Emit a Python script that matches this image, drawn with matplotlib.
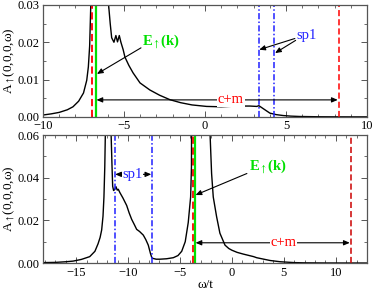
import matplotlib
matplotlib.use("Agg")
import matplotlib.pyplot as plt
from matplotlib.ticker import MultipleLocator

plt.rcParams['font.family'] = ['Liberation Serif', 'DejaVu Serif']
plt.rcParams['mathtext.fontset'] = 'stix'

# ---- data: top panel ----
x_top = [-10, -9.5, -9, -8.5, -8.15, -7.8, -7.5, -7.3, -7.2, -7.12, -7.05, -6.95, -6.6, -6.2,
         -5.97, -5.85, -5.76, -5.62, -5.5, -5.4, -5.29, -5.19, -5.05, -4.94, -4.7, -4.44,
         -4.01, -3.4, -2.8, -2.16, -1.5, -0.8, 0.1, 1.0, 1.96, 2.78, 3.2, 3.33, 3.6, 4.01,
         4.4, 4.84, 5.3, 5.86, 7, 8, 9, 10]
y_top = [0.0005, 0.0008, 0.0012, 0.0019, 0.0027, 0.0042, 0.0064, 0.0098, 0.0134, 0.019,
         0.03, 0.30, 0.08, 0.045, 0.031, 0.025, 0.0212, 0.0200, 0.0218, 0.0201, 0.0218,
         0.0200, 0.018, 0.016, 0.0138, 0.0118, 0.0091, 0.0072, 0.0058, 0.0046, 0.0038,
         0.0032, 0.0028, 0.0027, 0.0029, 0.0029, 0.0028, 0.003, 0.0022, 0.001, 0.0006,
         0.00035, 0.0002, 0.0001, 0.00003, 0.00001, 0, 0]
top_red = [-6.99, 8.25]
top_green = -6.75
top_blue = [3.33, 4.28]

# ---- data: bottom panel ----
x_bot = [-18.2, -17, -16, -15.3, -14.5, -13.7, -13.2, -12.9, -12.7, -12.55, -12.42, -12.33,
         -12.25, -12.18, -11.9, -11.65, -11.55, -11.49, -11.4, -11.3, -11.17, -11.05, -10.95,
         -10.79, -10.5, -10.14, -9.9, -9.66, -9.4, -9.18, -8.9, -8.54, -8.3, -8.06, -7.85,
         -7.72, -7.64, -7.3, -6.93, -6.3, -5.65, -5.2, -4.84, -4.5, -4.21, -3.98, -3.9,
         -3.75, -3.0, -2.12, -1.96, -1.8, -1.48, -1.16, -0.67, -0.3, 0.0, 0.5, 1.09, 2.09,
         2.38, 3.66, 4.65, 6.0, 6.9, 9, 13]
y_bot = [0.0002, 0.0003, 0.0006, 0.0009, 0.0017, 0.003, 0.0055, 0.009, 0.012, 0.0155, 0.022,
         0.031, 0.045, 0.065, 0.3, 0.062, 0.045, 0.036, 0.034, 0.0345, 0.0358, 0.0342, 0.0346,
         0.033, 0.0305, 0.027, 0.0235, 0.0205, 0.018, 0.0158, 0.0148, 0.0131, 0.011, 0.0084,
         0.0045, 0.0025, 0.0022, 0.0018, 0.0018, 0.002, 0.0025, 0.0035, 0.0055, 0.010, 0.019,
         0.031, 0.045, 0.3, 0.2, 0.062, 0.042, 0.031, 0.0218, 0.014, 0.0084, 0.0068, 0.006,
         0.005, 0.0042, 0.003, 0.0025, 0.0012, 0.0006, 0.0002, 0.0001, 0.00003, 0]
bot_red = [-3.73, 11.45]
bot_green = -3.56
bot_blue = [-11.3, -7.72]

RED = '#ff0000'
GREEN = '#00e000'
BLUE = '#2020ff'
FS = 9

fig = plt.figure(figsize=(3.74, 2.90), dpi=100)
ax1 = fig.add_axes([0.115, 0.597, 0.866, 0.386])
ax2 = fig.add_axes([0.115, 0.093, 0.866, 0.441])

def style(ax):
    ax.tick_params(which='both', direction='in', top=True, right=True, labelsize=FS, pad=2.5)
    ax.tick_params(which='major', length=4, width=0.7, color='#555555')
    ax.tick_params(which='minor', length=2, width=0.6, color='#555555')
    for s in ax.spines.values():
        s.set_linewidth(0.9)
        s.set_color('#555555')

arrow_kw = dict(arrowstyle='-|>,head_length=0.35,head_width=0.15', color='black', lw=0.8,
                shrinkA=0, shrinkB=0)
darrow_kw = dict(arrowstyle='<|-|>,head_length=0.35,head_width=0.15', color='black', lw=0.8,
                 shrinkA=0, shrinkB=0)

# ---- top ----
ax1.plot(x_top, y_top, color='black', lw=1.0)
ax1.axvline(top_red[0], color=RED, ls=(0, (4, 2)), lw=1.3)
ax1.axvline(top_green, color=GREEN, lw=1.6)
for xb in top_blue:
    ax1.axvline(xb, color=BLUE, ls=(0, (4, 1.5, 1, 1.5)), lw=1.1)
ax1.axvline(top_red[1], color=RED, ls=(0, (4, 2)), lw=1.1)
ax1.set_xlim(-10, 10)
ax1.set_ylim(0, 0.03)
ax1.xaxis.set_major_locator(MultipleLocator(5))
ax1.xaxis.set_minor_locator(MultipleLocator(1))
ax1.yaxis.set_major_locator(MultipleLocator(0.01))
ax1.yaxis.set_minor_locator(MultipleLocator(0.005))
ax1.yaxis.set_major_formatter(plt.FormatStrFormatter('%.2f'))
style(ax1)
ax1.set_ylabel(r'A$_{\uparrow}$(0,0,0,ω)', fontsize=FS + 0.5)
ax1.yaxis.set_label_coords(-0.078, 0.5)

ax1.annotate('', xy=(top_green + 0.08, 0.0115), xytext=(-3.95, 0.0185), arrowprops=arrow_kw)
ax1.text(-3.9, 0.0202, r'E$_{\uparrow}$(k)', color=GREEN, fontsize=FS + 1.5,
         fontweight='bold', ha='left', va='center')
ax1.annotate('', xy=(top_green + 0.05, 0.00455), xytext=(top_red[1] - 0.05, 0.00455),
             arrowprops=darrow_kw)
ax1.text(1.6, 0.00455, 'c+m', color=RED, fontsize=FS + 1.5, ha='center', va='center',
         bbox=dict(facecolor='white', edgecolor='none', pad=0.5))
ax1.annotate('', xy=(top_blue[0] + 0.02, 0.018), xytext=(5.55, 0.021), arrowprops=arrow_kw)
ax1.annotate('', xy=(top_blue[1] + 0.05, 0.0171), xytext=(5.6, 0.0205), arrowprops=arrow_kw)
ax1.text(5.65, 0.0218, 'sp1', color=BLUE, fontsize=FS + 1.5, ha='left', va='center')

# ---- bottom ----
ax2.plot(x_bot, y_bot, color='black', lw=1.0)
for xb in bot_blue:
    ax2.axvline(xb, color=BLUE, ls=(0, (4, 1.5, 1, 1.5)), lw=1.1)
ax2.axvline(bot_red[0], color=RED, ls=(0, (4, 2)), lw=1.3)
ax2.axvline(bot_green, color=GREEN, lw=1.6)
ax2.axvline(bot_red[1], color='#cc0000', ls=(0, (4, 2)), lw=1.1)
ax2.set_xlim(-18.2, 13)
ax2.set_ylim(0, 0.06)
ax2.xaxis.set_major_locator(MultipleLocator(5))
ax2.xaxis.set_minor_locator(MultipleLocator(1))
ax2.yaxis.set_major_locator(MultipleLocator(0.02))
ax2.yaxis.set_minor_locator(MultipleLocator(0.01))
ax2.yaxis.set_major_formatter(plt.FormatStrFormatter('%.2f'))
style(ax2)
ax2.set_ylabel(r'A$_{\uparrow}$(0,0,0,ω)', fontsize=FS + 0.5)
ax2.yaxis.set_label_coords(-0.078, 0.5)
ax2.set_xlabel('ω/t', fontsize=FS + 0.5, labelpad=0.5)

ax2.annotate('', xy=(bot_green + 0.05, 0.0319), xytext=(1.44, 0.042), arrowprops=arrow_kw)
ax2.text(1.6, 0.0452, r'E$_{\uparrow}$(k)', color=GREEN, fontsize=FS + 1.5,
         fontweight='bold', ha='left', va='center')
ax2.annotate('', xy=(bot_green + 0.05, 0.0095), xytext=(bot_red[1] - 0.1, 0.0095),
             arrowprops=darrow_kw)
ax2.text(4.98, 0.0095, 'c+m', color=RED, fontsize=FS + 1.5, ha='center', va='center',
         bbox=dict(facecolor='white', edgecolor='none', pad=0.5))
ax2.annotate('', xy=(bot_blue[0] + 0.05, 0.0416), xytext=(bot_blue[1] - 0.05, 0.0416),
             arrowprops=darrow_kw)
ax2.text(-9.55, 0.0416, 'sp1', color=BLUE, fontsize=FS + 1.5, ha='center', va='center',
         bbox=dict(facecolor='white', edgecolor='none', pad=0.3))

fig.savefig('out.png', dpi=100)
